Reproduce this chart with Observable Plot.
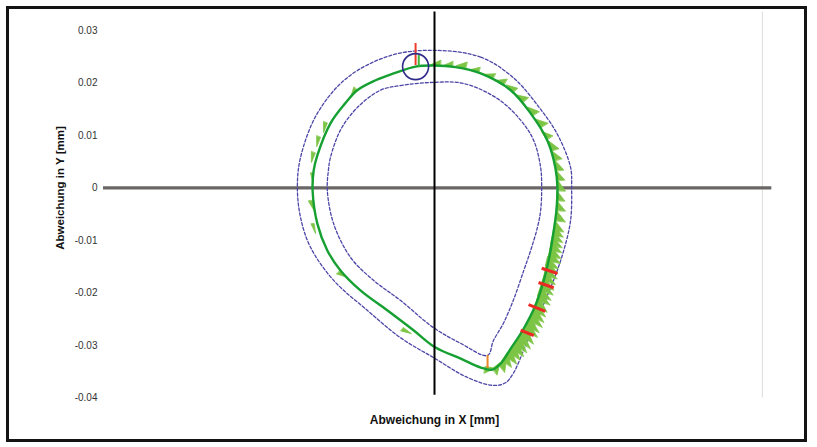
<!DOCTYPE html>
<html>
<head>
<meta charset="utf-8">
<script src="https://cdn.jsdelivr.net/npm/d3@7"></script>
<script src="https://cdn.jsdelivr.net/npm/@observablehq/plot@0.6"></script>
<style>
  html, body { margin: 0; padding: 0; background: #fff; }
  #wrap { position: relative; width: 817px; height: 447px; overflow: hidden; }
  #frame { position: absolute; left: 6px; top: 6px; width: 801px; height: 436px; box-sizing: border-box; border: 3.5px solid #141414; pointer-events: none; }
  #chart { position: absolute; left: 0; top: 0; }
</style>
</head>
<body>
<div id="wrap"><div id="chart"></div><div id="frame"></div></div>
<script>
// Nominal contour (mm), clockwise from top
const nomX = [-0.0036,-0.0002,0.0040,0.0088,0.0145,0.0183,0.0215,0.0230,0.0234,0.0232,0.0227,0.0219,0.0208,0.0192,0.0168,0.0145,0.0128,0.0110,0.0088,0.0050,0.0002,-0.0040,-0.0090,-0.0141,-0.0179,-0.0204,-0.0223,-0.0232,-0.0230,-0.0223,-0.0198,-0.0170,-0.0147,-0.0112,-0.0078];
const nomY = [0.0231,0.0233,0.0230,0.0218,0.0186,0.0142,0.0090,0.0039,0.0001,-0.0043,-0.0081,-0.0129,-0.0176,-0.0224,-0.0271,-0.0306,-0.0332,-0.0346,-0.0342,-0.0325,-0.0304,-0.0271,-0.0233,-0.0195,-0.0157,-0.0119,-0.0068,-0.0005,0.0033,0.0062,0.0123,0.0161,0.0186,0.0205,0.0218];
// Inner tolerance
const innerX = [-0.0103,-0.0065,-0.0002,0.0055,0.0120,0.0164,0.0189,0.0202,0.0204,0.0202,0.0196,0.0183,0.0170,0.0150,0.0131,0.0112,0.0101,0.0050,-0.0002,-0.0065,-0.0116,-0.0160,-0.0192,-0.0204,-0.0202,-0.0198,-0.0179,-0.0147];
const innerY = [0.0186,0.0195,0.0201,0.0199,0.0170,0.0129,0.0090,0.0039,0.0001,-0.0043,-0.0075,-0.0119,-0.0157,-0.0214,-0.0258,-0.0291,-0.0319,-0.0296,-0.0266,-0.0214,-0.0176,-0.0132,-0.0068,-0.0005,0.0033,0.0058,0.0110,0.0153];
// Outer tolerance
const outerX = [-0.0002,0.0088,0.0150,0.0198,0.0234,0.0259,0.0261,0.0259,0.0246,0.0230,0.0211,0.0177,0.0150,0.0135,0.0112,0.0063,-0.0002,-0.0065,-0.0128,-0.0192,-0.0236,-0.0255,-0.0261,-0.0255,-0.0223,-0.0166,-0.0084];
const outerY = [0.0262,0.0249,0.0210,0.0155,0.0102,0.0039,0.0001,-0.0062,-0.0119,-0.0167,-0.0214,-0.0291,-0.0353,-0.0371,-0.0376,-0.0361,-0.0323,-0.0285,-0.0233,-0.0176,-0.0113,-0.0056,0.0001,0.0058,0.0142,0.0210,0.0252];
// Measured deviations (base point on contour, deviation in mm)
const spikeX = [0.0011,0.0034,0.0059,0.0084,0.0110,0.0131,0.0149,0.0168,0.0187,0.0202,0.0213,0.0223,0.0229,0.0232,0.0234,0.0234,0.0232,0.0232,0.0230,0.0227,0.0223,0.0219,0.0215,0.0210,0.0206,0.0200,0.0194,0.0187,0.0179,0.0170,0.0158,0.0147,0.0135,0.0122,0.0110,
  0.0225,0.0221,0.0217,0.0211,0.0208,0.0202,0.0196,0.0190,0.0183,0.0173,0.0164,0.0152,0.0141,0.0128,
  -0.0147,-0.0204,-0.0217,-0.0227,-0.0230,-0.0232,-0.0229,-0.0179,-0.0059,0.0097];
const spikeY = [0.0233,0.0231,0.0228,0.0220,0.0207,0.0195,0.0182,0.0163,0.0138,0.0115,0.0092,0.0071,0.0052,0.0033,0.0014,-0.0005,-0.0024,-0.0043,-0.0062,-0.0081,-0.0100,-0.0119,-0.0138,-0.0157,-0.0176,-0.0195,-0.0214,-0.0233,-0.0252,-0.0271,-0.0290,-0.0306,-0.0321,-0.0336,-0.0344,
  -0.0090,-0.0110,-0.0129,-0.0148,-0.0167,-0.0186,-0.0205,-0.0224,-0.0243,-0.0262,-0.0281,-0.0298,-0.0313,-0.0329,
  0.0186,0.0123,0.0096,0.0066,0.0028,-0.0024,-0.0068,-0.0157,-0.0266,-0.0340];
const spikeDev = [0.0010,0.0010,0.0012,0.0010,0.0012,0.0014,0.0012,0.0014,0.0014,0.0016,0.0014,0.0014,0.0014,0.0014,0.0014,0.0015,0.0016,0.0017,0.0019,0.0019,0.0021,0.0023,0.0025,0.0025,0.0025,0.0027,0.0027,0.0027,0.0029,0.0029,0.0029,0.0027,0.0025,0.0019,0.0015,
  0.0020,0.0022,0.0024,0.0025,0.0026,0.0026,0.0027,0.0027,0.0028,0.0029,0.0029,0.0028,0.0026,0.0022,
  0.0009,0.0008,0.0008,0.0008,0.0006,0.0008,0.0006,0.0010,0.0008,0.0013];
// Out-of-tolerance markers (red)
const redX1 = [0.0204,0.0198,0.0179,0.0164];
const redY1 = [-0.0153,-0.0180,-0.0222,-0.0271];
const redX2 = [0.0234,0.0227,0.0211,0.0189];
const redY2 = [-0.0163,-0.0190,-0.0235,-0.0281];
// Start point marker
const startX = [-0.0036];
const startY = [0.0231];
const startRedY = [0.0275, 0.0233];
const startGreenX = [-0.0030];
const startGreenY = [0.0252, 0.0231];
const tipX = [0.0101];
const tipY = [-0.0319, -0.0344];
// Axis
const yTicks = [-0.04,-0.03,-0.02,-0.01,0,0.01,0.02,0.03];

const pts = (xs, ys) => xs.map((x, i) => ({x, y: ys[i]}));
const nominal = pts(nomX, nomY);
const inner = pts(innerX, innerY);
const outer = pts(outerX, outerY);

// Build sawtooth deviation triangles
const cx = d3.mean(nomX), cy = d3.mean(nomY);
function tangentAt(px, py) {
  let best = Infinity, tx = 1, ty = 0;
  const n = nomX.length;
  for (let i = 0; i < n; i++) {
    const ax = nomX[i], ay = nomY[i], bx = nomX[(i+1)%n], by = nomY[(i+1)%n];
    const dx = bx - ax, dy = by - ay, L2 = dx*dx + dy*dy;
    let t = ((px-ax)*dx + (py-ay)*dy) / L2; t = Math.max(0, Math.min(1, t));
    const qx = ax + t*dx - px, qy = ay + t*dy - py, d = qx*qx + qy*qy;
    if (d < best) { best = d; const L = Math.sqrt(L2); tx = dx/L; ty = dy/L; }
  }
  return [tx, ty];
}
const tri = [];
const baseW = 0.0019;
spikeX.forEach((sx, i) => {
  const sy = spikeY[i], dev = spikeDev[i];
  const [tx, ty] = tangentAt(sx, sy);
  let nx = ty, ny = -tx;
  if (nx*(sx-cx) + ny*(sy-cy) < 0) { nx = -nx; ny = -ny; }
  tri.push({id: i, x: sx, y: sy});
  tri.push({id: i, x: sx - tx*baseW, y: sy - ty*baseW});
  tri.push({id: i, x: sx + nx*dev, y: sy + ny*dev});
});

const reds = redX1.map((x1, i) => ({x1, y1: redY1[i], x2: redX2[i], y2: redY2[i]}));

const plot = Plot.plot({
  width: 817,
  height: 447,
  marginLeft: 103,
  marginRight: 52,
  marginTop: 11.5,
  marginBottom: 49.5,
  style: {fontFamily: "'Liberation Sans', Arial, sans-serif", background: "transparent"},
  x: {domain: [-0.063, 0.063], axis: null},
  y: {domain: [-0.04, 0.0335], axis: null},
  marks: [
    Plot.ruleX([0.0624], {y1: -0.04, y2: 0.0335, stroke: "#dcdcdc", strokeWidth: 1}),
    Plot.ruleY([0], {x1: -0.063, x2: 0.0642, stroke: "#6a6666", strokeWidth: 3.2}),
    Plot.line(outer, {x: "x", y: "y", curve: "catmull-rom-closed", stroke: "#4b45a6", strokeWidth: 1.3, strokeDasharray: "3,2"}),
    Plot.line(inner, {x: "x", y: "y", curve: "catmull-rom-closed", stroke: "#4b45a6", strokeWidth: 1.3, strokeDasharray: "3,2"}),
    Plot.line(tri, {x: "x", y: "y", z: "id", curve: "linear-closed", fill: "#7cc444", stroke: "#7cc444", strokeWidth: 0.8}),
    Plot.line(nominal, {x: "x", y: "y", curve: "catmull-rom-closed", stroke: "#16a032", strokeWidth: 2.4}),
    Plot.link(reds, {x1: "x1", y1: "y1", x2: "x2", y2: "y2", stroke: "#ec2a24", strokeWidth: 3}),
    Plot.ruleX(tipX, {y1: tipY[0], y2: tipY[1], stroke: "#e8862a", strokeWidth: 2}),
    Plot.ruleX(startGreenX, {y1: startGreenY[0], y2: startGreenY[1], stroke: "#3cb43c", strokeWidth: 2}),
    Plot.ruleX(startX, {y1: startRedY[0], y2: startRedY[1], stroke: "#ee3a28", strokeWidth: 2}),
    Plot.dot(pts(startX, startY), {x: "x", y: "y", r: 13, stroke: "#2e2a8a", strokeWidth: 1.6, fill: "none"}),
    Plot.ruleX([0], {y1: -0.0395, y2: 0.0335, stroke: "#000", strokeWidth: 2}),
    Plot.axisY({ticks: yTicks, tickSize: 0, tickPadding: 6, label: null, fontSize: 10, fill: "#333",
      tickFormat: d => d === 0 ? "0" : d.toFixed(2)}),
    Plot.text(["Abweichung in Y [mm]"], {frameAnchor: "left", textAnchor: "middle", lineAnchor: "middle", rotate: -90, dx: -43, dy: -17, fontWeight: "bold", fontSize: 11.5, fill: "#111"}),
    Plot.text(["Abweichung in X [mm]"], {frameAnchor: "bottom", textAnchor: "middle", lineAnchor: "middle", dy: 22.5, fontWeight: "bold", fontSize: 12, fill: "#111"})
  ]
});
document.getElementById("chart").appendChild(plot);
</script>
</body>
</html>
